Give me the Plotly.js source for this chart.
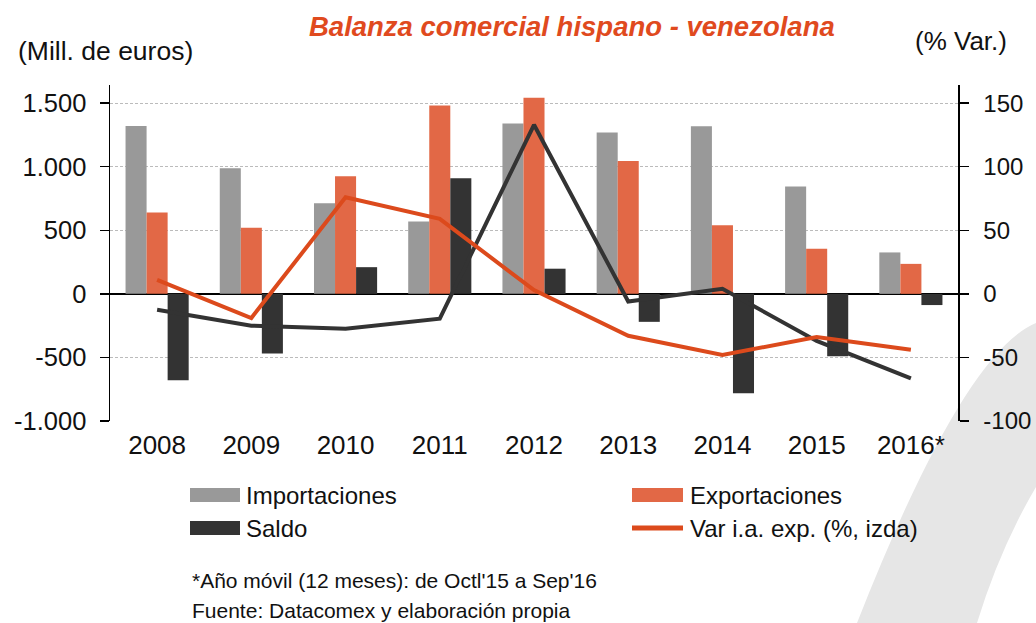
<!DOCTYPE html>
<html>
<head>
<meta charset="utf-8">
<script src="https://cdn.plot.ly/plotly-3.0.1.min.js"></script>
<style>html,body{margin:0;padding:0;background:#fff;}#chart{width:1036px;height:623px;}</style>
</head>
<body>
<div id="chart"></div>
<script>
// ---- data ----
var years = ['2008','2009','2010','2011','2012','2013','2014','2015','2016*'];
var importaciones = [1320, 988, 712, 570, 1341, 1270, 1319, 844, 326];
var exportaciones = [641, 520, 925, 1482, 1543, 1046, 539, 355, 236];
var saldo = [-680, -470, 210, 910, 198, -220, -782, -490, -88];
var varExp = [11, -19, 76, 59, 3, -33, -48, -34, -44];
var varImp = [-12.5, -25, -27.5, -19.5, 133, -6, 4, -37, -66.5];
var leftTickVals = [-1000, -500, 0, 500, 1000, 1500];
var leftTickText = ['-1.000', '-500', '0', '500', '1.000', '1.500'];
var rightTickVals = [-100, -50, 0, 50, 100, 150];
var rightTickText = ['-100', '-50', '0', '50', '100', '150'];

var FONT = 'Liberation Sans, Arial, Helvetica, sans-serif';
var L = 110, R = 958, T = 85, B = 421;
function px(x){ return (x - L) / (R - L); }
function py(y){ return (B - y) / (B - T); }

var traces = [
  {type:'bar', name:'Importaciones', x:years, y:importaciones, marker:{color:'#999999'}, showlegend:false, hoverinfo:'y'},
  {type:'bar', name:'Exportaciones', x:years, y:exportaciones, marker:{color:'#E26846'}, showlegend:false, hoverinfo:'y'},
  {type:'bar', name:'Saldo', x:years, y:saldo, marker:{color:'#333333'}, showlegend:false, hoverinfo:'y'},
  {type:'scatter', mode:'lines', name:'Var i.a. imp.', x:years, y:varImp, yaxis:'y2', line:{color:'#333333', width:4}, showlegend:false},
  {type:'scatter', mode:'lines', name:'Var i.a. exp. (%, izda)', x:years, y:varExp, yaxis:'y2', line:{color:'#DC4A1C', width:4}, showlegend:false}
];

function swoosh(){
  var p = function(x,y){ return px(x).toFixed(4) + ',' + py(y).toFixed(4); };
  return 'M' + p(857,623) + ' Q' + p(963,353) + ' ' + p(1036,323) +
         ' L' + p(1036,487) + ' Q' + p(1000,548) + ' ' + p(977,623) + ' Z';
}

var shapes = [
  {type:'path', xref:'paper', yref:'paper', path:swoosh(), fillcolor:'#E6E6E6', line:{width:0}, layer:'below'},
  // legend swatches
  {type:'rect', xref:'paper', yref:'paper', x0:px(190), x1:px(240), y0:py(502), y1:py(488), fillcolor:'#999999', line:{width:0}},
  {type:'rect', xref:'paper', yref:'paper', x0:px(632), x1:px(683), y0:py(502), y1:py(488), fillcolor:'#E26846', line:{width:0}},
  {type:'rect', xref:'paper', yref:'paper', x0:px(190), x1:px(240), y0:py(535), y1:py(521), fillcolor:'#333333', line:{width:0}},
  {type:'line', xref:'paper', yref:'paper', x0:px(632), x1:px(683), y0:py(528), y1:py(528), line:{color:'#DC4A1C', width:5}}
];

function ann(text, x, y, xa, size, extra){
  var a = {text:text, xref:'paper', yref:'paper', x:px(x), y:py(y), xanchor:xa, yanchor:'middle',
           showarrow:false, font:{family:FONT, size:size, color:'#111111'}};
  if (extra) for (var k in extra) a[k] = extra[k];
  return a;
}

var annotations = [
  ann('(Mill. de euros)', 16, 51, 'left', 26.5),
  ann('(% Var.)', 1009, 41, 'right', 26),
  ann('Importaciones', 244, 495, 'left', 24),
  ann('Exportaciones', 688, 495, 'left', 24),
  ann('Saldo', 244, 528, 'left', 24),
  ann('Var i.a. exp. (%, izda)', 688, 528, 'left', 24),
  ann("*Año móvil (12 meses): de Octl'15 a Sep'16", 190, 580, 'left', 21),
  ann('Fuente: Datacomex y elaboración propia', 190, 610, 'left', 21)
];

var layout = {
  width:1036, height:623,
  margin:{l:L, r:1036-R, t:T, b:623-B, pad:0},
  paper_bgcolor:'rgba(0,0,0,0)', plot_bgcolor:'rgba(0,0,0,0)',
  font:{family:FONT, size:24, color:'#111111'},
  title:{text:'<b><i>Balanza comercial hispano - venezolana</i></b>', x:0.552, xanchor:'center',
         y:1-26/623, yanchor:'middle', font:{family:FONT, size:27.5, color:'#E04A1E'}},
  barmode:'group', bargap:0.33, bargroupgap:0,
  showlegend:false,
  xaxis:{type:'category', showline:false, showgrid:false, ticks:'', zeroline:false,
         tickfont:{family:FONT, size:26, color:'#111111'}, ticklabelstandoff:6},
  yaxis:{range:[-1000, 1643], tickvals:leftTickVals, ticktext:leftTickText,
         showline:true, linecolor:'#000000', linewidth:1.5, ticks:'outside', ticklen:9, tickwidth:1.5, tickcolor:'#000',
         showgrid:true, gridcolor:'#BBBBBB', gridwidth:1, griddash:'3px,2px',
         zeroline:true, zerolinecolor:'#000000', zerolinewidth:1.5,
         tickfont:{family:FONT, size:25.5, color:'#111111'}, ticklabelstandoff:8, fixedrange:true},
  yaxis2:{overlaying:'y', side:'right', range:[-100, 164.3], tickvals:rightTickVals, ticktext:rightTickText,
          showline:true, linecolor:'#000000', linewidth:1.5, ticks:'outside', ticklen:9, tickwidth:1.5, tickcolor:'#000',
          showgrid:false, zeroline:false,
          tickfont:{family:FONT, size:24, color:'#111111'}, ticklabelstandoff:10, fixedrange:true},
  shapes:shapes,
  annotations:annotations
};

Plotly.newPlot('chart', traces, layout, {displayModeBar:false, staticPlot:true});
</script>
</body>
</html>
